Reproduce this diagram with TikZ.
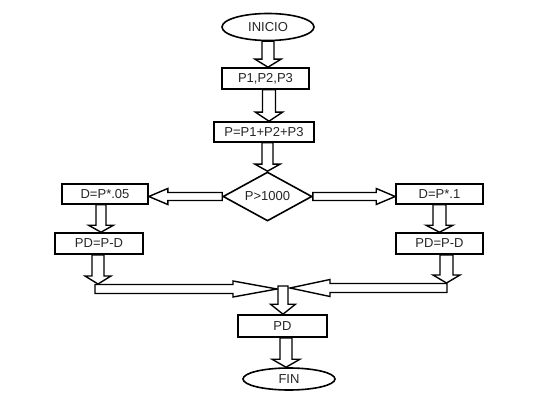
\documentclass[tikz,border=0pt]{standalone}
\usepackage{fontspec}
\setmainfont{Liberation Sans}
\usetikzlibrary{calc,shapes.geometric}
\tikzset{
  blk/.style={draw=black, fill=white, line width=1.4pt, line join=miter},
  box/.style={draw=black, line width=1.6pt, rectangle, inner sep=0pt, text=black!85,
    font=\fontsize{13}{15}\selectfont},
  term/.style={draw=black, line width=1.6pt, ellipse, inner sep=0pt, text=black!85,
    font=\fontsize{13}{15}\selectfont},
  dec/.style={draw=black, line width=1.6pt, diamond, inner sep=0pt, shape aspect=1.8,
    text=black!85, font=\fontsize{13}{15}\selectfont}
}
% block arrow: #1 shaft half width, #2 head half width, #3 head length, #4 from, #5 to
\newcommand{\barrow}[5]{%
  \draw[blk] let \p1=#4, \p2=#5,
    \n1={atan2(\y2-\y1,\x2-\x1)}, \n2={veclen(\x2-\x1,\y2-\y1)} in
    ($(\p1)+(\n1+90:#1pt)$)
    -- ($(\p1)+(\n1:{\n2*1pt-#3pt})+(\n1+90:#1pt)$)
    -- ($(\p1)+(\n1:{\n2*1pt-#3pt})+(\n1+90:#2pt)$)
    -- (\p2)
    -- ($(\p1)+(\n1:{\n2*1pt-#3pt})+(\n1-90:#2pt)$)
    -- ($(\p1)+(\n1:{\n2*1pt-#3pt})+(\n1-90:#1pt)$)
    -- ($(\p1)+(\n1-90:#1pt)$) -- cycle;}
\begin{document}
\begin{tikzpicture}[x=1pt,y=-1pt]
\useasboundingbox[fill=white] (0,0) rectangle (560,409);
% nodes
\node[term, minimum width=92pt, minimum height=27pt] (inicio) at (268,27) {INICIO};
\node[box, minimum width=87pt, minimum height=21pt] (p123) at (265.5,78.5) {P1,P2,P3};
\node[box, minimum width=100pt, minimum height=20pt] (psum) at (264,132) {P=P1+P2+P3};
\node[dec, minimum width=89pt, minimum height=49pt] (cond) at (267.5,196.5) {P>1000};
\node[box, minimum width=86pt, minimum height=20pt] (d1) at (105,194) {D=P*.05};
\node[box, minimum width=87pt, minimum height=20pt] (d2) at (439.5,194) {D=P*.1};
\node[box, minimum width=88pt, minimum height=21pt] (pd1) at (99,243.5) {PD=P-D};
\node[box, minimum width=87pt, minimum height=21pt] (pd2) at (439.5,243.5) {PD=P-D};
\node[box, minimum width=89pt, minimum height=22pt] (pd) at (282.5,326) {PD};
\node[term, minimum width=92pt, minimum height=22pt] (fin) at (289,379) {FIN};
% helper coordinates
\coordinate (a2) at ($(p123.south)+(3.5,0)$);
\coordinate (a6) at ($(d1.south)+(-4,0)$);
\coordinate (a8) at ($(pd1.south)+(-1,0)$);
\coordinate (j1) at (98,284);
\coordinate (h1) at (95,289);
\coordinate (m1) at (277,289);
\coordinate (j2) at (446.5,283);
\coordinate (h2) at (447,288);
\coordinate (m2) at (290,288);
\coordinate (mtop) at (283,286);
\coordinate (a13) at ($(pd.south)+(3.5,0)$);
% arrows
\barrow{6}{13}{8}{(inicio.south)}{(inicio.south |- p123.north)}
\barrow{6.5}{13.5}{9}{(a2)}{(a2 |- psum.north)}
\barrow{5.5}{12.5}{7}{(cond.north |- psum.south)}{(cond.north)}
\barrow{4}{8}{19}{(cond.west)}{(d1.east |- cond.west)}
\barrow{4}{8}{19}{(cond.east)}{(d2.west |- cond.east)}
\barrow{5}{12.5}{7}{(a6)}{(a6 |- pd1.north)}
\barrow{6.5}{13.5}{7}{(d2.south)}{(d2.south |- pd2.north)}
\barrow{4.5}{8}{44}{(h1)}{(m1)}
\barrow{4.5}{8.5}{40}{(h2)}{(m2)}
\barrow{6}{13}{8}{(a8)}{(j1)}
\barrow{6.5}{13.5}{8}{(pd2.south -| j2)}{(j2)}
\barrow{5}{12.5}{10}{(mtop)}{(mtop |- pd.north)}
\barrow{6}{14}{8}{(a13)}{(a13 |- fin.north)}
\end{tikzpicture}
\end{document}
